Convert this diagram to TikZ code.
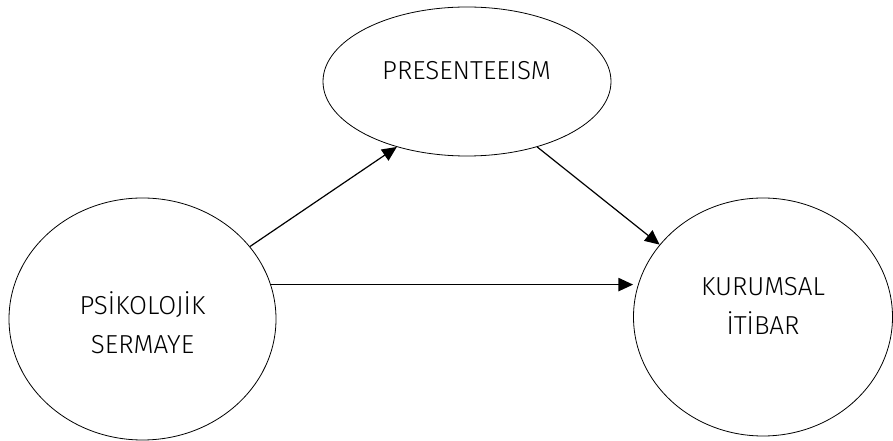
\documentclass[tikz,border=0pt]{standalone}
\usepackage{fontspec}
\setmainfont{Fira Sans Light}
\usetikzlibrary{arrows.meta,shapes.geometric}

\begin{document}
\begin{tikzpicture}[x=.75pt,y=-.75pt,>={Triangle[length=11pt,width=10pt]},line join=round,
	oval/.style 2 args={draw,ellipse,inner sep=0pt,line width=.6pt,minimum width=.75*#1pt,minimum height=.75*#2pt},
	lbl/.style={font=\fontsize{19.5}{29.5}\selectfont,align=center,inner sep=0pt},
	arr/.style={->,line width=.9pt}]
	\useasboundingbox (0,0) rectangle (893,441);
	% the three constructs
	\node[oval={267}{242}] (ps) at (142.5,319) {};
	\node[oval={288}{149}] (pr) at (467,81.5) {};
	\node[oval={259}{238}] (ki) at (763,317) {};
	\node[lbl] (pstxt) at (142.5,323) {PSİKOLOJİK\\SERMAYE};
	\node[lbl] (prtxt) at (466.5,71) {PRESENTEEISM};
	\node[lbl] (kitxt) at (763,306) {KURUMSAL\\İTİBAR};
	% paths
	\draw[arr] (ps.34) -- (pr.223);
	\draw[arr] (pr.317) -- (ki.145);
	\draw[arr] (ps.15) -- (ps.15 -| ki.west);
\end{tikzpicture}
\end{document}
